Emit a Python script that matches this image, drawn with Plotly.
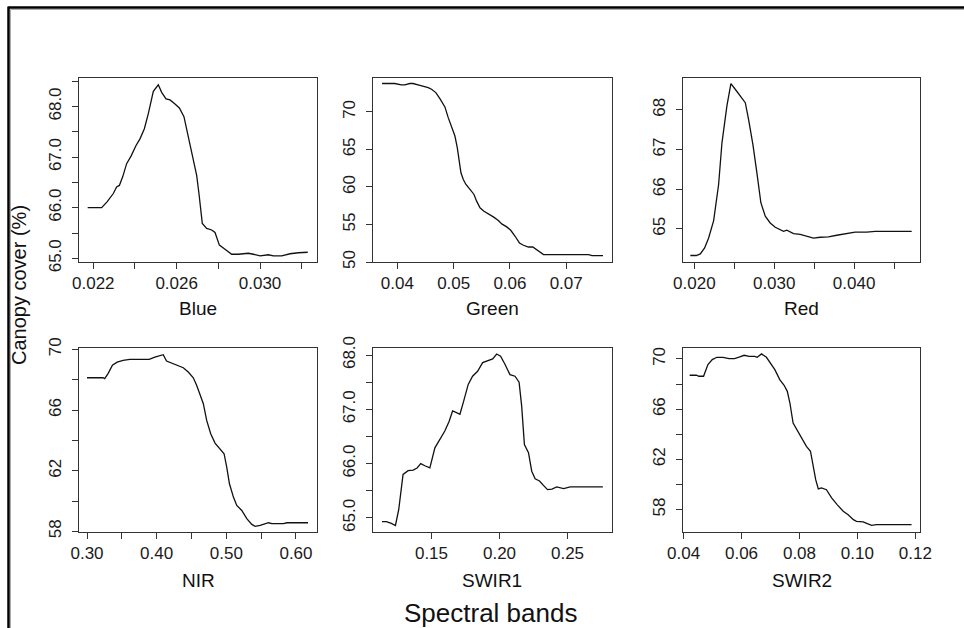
import plotly.graph_objects as go

W, H = 964, 628

# ---------------- data ----------------
blue_x = [0.02173, 0.0224, 0.02267, 0.02296, 0.02312, 0.02325, 0.02341, 0.0236, 0.02381, 0.02405,
          0.02424, 0.02445, 0.02464, 0.02488, 0.02512, 0.02528, 0.02549, 0.02568, 0.02592, 0.02613,
          0.02635, 0.02656, 0.0268, 0.02696, 0.02707, 0.02723, 0.02744, 0.02768, 0.02784, 0.02805,
          0.02832, 0.02864, 0.02896, 0.02944, 0.02968, 0.030, 0.0304, 0.03064, 0.03104, 0.03144,
          0.03184, 0.03229]
blue_y = [66.0, 66.0, 66.12, 66.28, 66.41, 66.44, 66.61, 66.87, 67.02, 67.23,
          67.36, 67.56, 67.86, 68.30, 68.43, 68.28, 68.15, 68.13, 68.05, 67.97,
          67.80, 67.40, 67.0, 66.64, 66.28, 65.69, 65.59, 65.56, 65.51, 65.26,
          65.18, 65.08, 65.08, 65.10, 65.08, 65.05, 65.07, 65.05, 65.05, 65.09,
          65.11, 65.12]

green_x = [0.03727, 0.03952, 0.04071, 0.04131, 0.0422, 0.04279, 0.04368, 0.04458, 0.04547, 0.04606,
           0.04683, 0.04755, 0.04844, 0.04903, 0.04963, 0.05022, 0.05064, 0.05099, 0.05129, 0.05171,
           0.05218, 0.0529, 0.05361, 0.05408, 0.05468, 0.05539, 0.05616, 0.05705, 0.05794, 0.05854,
           0.05943, 0.06014, 0.06092, 0.06169, 0.0624, 0.06329, 0.06406, 0.06478, 0.06537, 0.06597,
           0.06834, 0.07191, 0.07399, 0.07458, 0.07654]
green_y = [73.79, 73.79, 73.61, 73.61, 73.79, 73.79, 73.61, 73.47, 73.25, 73.03,
           72.58, 71.78, 70.67, 69.24, 68.13, 66.79, 65.23, 63.67, 61.89, 61.0,
           60.33, 59.67, 59.0, 58.11, 57.22, 56.77, 56.46, 56.01, 55.52, 55.08,
           54.68, 54.23, 53.43, 52.54, 52.23, 52.0, 52.0, 51.65, 51.29, 50.98,
           50.98, 50.98, 50.98, 50.85, 50.85]

red_x = [0.0195, 0.02025, 0.02075, 0.02129, 0.02179, 0.02242, 0.02304, 0.02346, 0.02408, 0.02458,
         0.02512, 0.02575, 0.02638, 0.02679, 0.02733, 0.02783, 0.02833, 0.02888, 0.0295, 0.03013,
         0.03075, 0.03117, 0.03158, 0.03192, 0.03242, 0.03325, 0.03408, 0.03492, 0.03575, 0.03679,
         0.03783, 0.03888, 0.04013, 0.04158, 0.04263, 0.04492, 0.04721]
red_y = [64.33, 64.33, 64.37, 64.52, 64.77, 65.21, 66.12, 67.17, 68.10, 68.66,
         68.52, 68.35, 68.18, 67.76, 67.13, 66.42, 65.66, 65.32, 65.15, 65.04,
         64.98, 64.94, 64.97, 64.94, 64.88, 64.86, 64.81, 64.77, 64.79, 64.80,
         64.84, 64.88, 64.92, 64.92, 64.94, 64.94, 64.94]

nir_x = [0.30, 0.323, 0.3254, 0.3302, 0.3365, 0.3432, 0.3518, 0.3614, 0.3758, 0.3893,
         0.3974, 0.4046, 0.4094, 0.4142, 0.4214, 0.4286, 0.4382, 0.4454, 0.4526, 0.4574,
         0.4622, 0.467, 0.4718, 0.4776, 0.4838, 0.491, 0.4968, 0.5006, 0.5045, 0.5102,
         0.515, 0.5222, 0.5294, 0.5366, 0.5414, 0.5486, 0.5558, 0.5606, 0.5654, 0.5822,
         0.587, 0.6014, 0.6173]
nir_y = [68.13, 68.13, 68.07, 68.40, 68.95, 69.16, 69.27, 69.34, 69.34, 69.34,
         69.49, 69.60, 69.65, 69.23, 69.10, 68.95, 68.79, 68.51, 68.13, 67.63,
         67.08, 66.42, 65.32, 64.44, 63.82, 63.45, 63.12, 62.24, 61.14, 60.26,
         59.71, 59.38, 58.84, 58.46, 58.33, 58.40, 58.51, 58.57, 58.51, 58.51,
         58.57, 58.57, 58.57]

swir1_x = [0.1136, 0.1168, 0.1205, 0.1235, 0.1259, 0.1291, 0.1328, 0.1365, 0.1394, 0.1421,
           0.1451, 0.1488, 0.1525, 0.1561, 0.1598, 0.163, 0.1655, 0.1684, 0.1709, 0.1733,
           0.177, 0.1802, 0.1839, 0.1876, 0.191, 0.195, 0.1979, 0.2008, 0.204, 0.2077,
           0.2114, 0.2144, 0.2163, 0.2183, 0.2213, 0.2237, 0.2262, 0.2294, 0.2323, 0.2353,
           0.2385, 0.2421, 0.2471, 0.252, 0.2618, 0.2760]
swir1_y = [64.93, 64.93, 64.90, 64.86, 65.15, 65.80, 65.87, 65.88, 65.92, 66.0,
           65.96, 65.92, 66.29, 66.44, 66.60, 66.78, 66.97, 66.94, 66.91, 67.12,
           67.46, 67.61, 67.70, 67.86, 67.89, 67.93, 68.02, 67.98, 67.83, 67.64,
           67.61, 67.50, 67.06, 66.35, 66.20, 65.86, 65.72, 65.68, 65.60, 65.52,
           65.53, 65.57, 65.54, 65.57, 65.57, 65.57]

swir2_x = [0.0421, 0.0444, 0.0453, 0.0469, 0.0484, 0.0499, 0.0515, 0.0536, 0.0557, 0.0576,
           0.0594, 0.0609, 0.0626, 0.0646, 0.0654, 0.0669, 0.0686, 0.07, 0.0715, 0.0732,
           0.0747, 0.0758, 0.0767, 0.0778, 0.0795, 0.0813, 0.0824, 0.0838, 0.0847, 0.0856,
           0.0865, 0.0876, 0.0893, 0.0911, 0.093, 0.0951, 0.0968, 0.0986, 0.0997, 0.102,
           0.1034, 0.1049, 0.1066, 0.1124, 0.1187]
swir2_y = [68.70, 68.70, 68.62, 68.62, 69.55, 69.95, 70.13, 70.13, 70.03, 70.03,
           70.16, 70.29, 70.21, 70.21, 70.13, 70.40, 70.13, 69.68, 69.15, 68.35,
           67.90, 67.42, 66.49, 64.90, 64.24, 63.44, 63.04, 62.65, 61.45, 60.39,
           59.65, 59.73, 59.59, 58.93, 58.40, 57.87, 57.60, 57.20, 57.07, 57.02,
           56.88, 56.75, 56.81, 56.81, 56.81]

band_names = ["Blue", "Green", "Red", "NIR", "SWIR1", "SWIR2"]
xs = [blue_x, green_x, red_x, nir_x, swir1_x, swir2_x]
ys = [blue_y, green_y, red_y, nir_y, swir1_y, swir2_y]

# tick values and labels ("" = tick without label, as R drops overlapping labels)
x_tickvals = [
    [0.022, 0.024, 0.026, 0.028, 0.030, 0.032],
    [0.04, 0.05, 0.06, 0.07],
    [0.020, 0.025, 0.030, 0.035, 0.040, 0.045],
    [0.30, 0.35, 0.40, 0.45, 0.50, 0.55, 0.60],
    [0.15, 0.20, 0.25],
    [0.04, 0.06, 0.08, 0.10, 0.12],
]
x_ticktext = [
    ["0.022", "", "0.026", "", "0.030", ""],
    ["0.04", "0.05", "0.06", "0.07"],
    ["0.020", "", "0.030", "", "0.040", ""],
    ["0.30", "", "0.40", "", "0.50", "", "0.60"],
    ["0.15", "0.20", "0.25"],
    ["0.04", "0.06", "0.08", "0.10", "0.12"],
]
y_tickvals = [
    [65.0, 65.5, 66.0, 66.5, 67.0, 67.5, 68.0, 68.5],
    [50, 55, 60, 65, 70],
    [65, 66, 67, 68],
    [58, 60, 62, 64, 66, 68, 70],
    [65.0, 65.5, 66.0, 66.5, 67.0, 67.5, 68.0],
    [58, 60, 62, 64, 66, 68, 70],
]
y_ticktext = [
    ["65.0", "", "66.0", "", "67.0", "", "68.0", ""],
    ["50", "55", "60", "65", "70"],
    ["65", "66", "67", "68"],
    ["58", "", "62", "", "66", "", "70"],
    ["65.0", "", "66.0", "", "67.0", "", "68.0"],
    ["58", "", "62", "", "66", "", "70"],
]
x_ranges = [[0.021314, 0.032734], [0.03566, 0.07814], [0.018583, 0.04825],
            [0.2885, 0.6302], [0.107, 0.2827], [0.0398, 0.1216]]
y_ranges = [[64.927, 68.573], [50.0, 74.59], [64.166, 68.816],
            [57.96, 70.09], [64.74, 68.13], [56.22, 70.87]]

# ---------------- layout (pixel boxes) ----------------
col_px = [(79, 317), (373, 612), (683, 920)]
row_px = [(77.5, 262), (348, 532)]

FONT = "Liberation Sans, Arial, sans-serif"
fig = go.Figure()
layout = dict(
    width=W, height=H, margin=dict(l=0, r=0, t=0, b=0, autoexpand=False),
    paper_bgcolor="white", plot_bgcolor="white", showlegend=False,
    font=dict(family=FONT, color="#1a1a1a"),
)
annotations = []
for i, name in enumerate(band_names):
    r, c = divmod(i, 3)
    x0, x1 = col_px[c]
    y0, y1 = row_px[r]
    sfx = "" if i == 0 else str(i + 1)
    fig.add_trace(go.Scatter(x=xs[i], y=ys[i], mode="lines",
                             line=dict(color="#111111", width=1.3),
                             xaxis="x" + sfx, yaxis="y" + sfx, hoverinfo="skip"))
    layout["xaxis" + sfx] = dict(
        domain=[x0 / W, x1 / W], anchor="y" + sfx, range=x_ranges[i], automargin=False,
        tickmode="array", tickvals=x_tickvals[i], ticktext=x_ticktext[i],
        ticks="outside", ticklen=6, tickwidth=1, tickcolor="#333333",
        showline=True, linecolor="#333333", linewidth=1, mirror=True,
        showgrid=False, zeroline=False, tickfont=dict(size=17, color="#1a1a1a"),
    )
    layout["yaxis" + sfx] = dict(
        domain=[1 - y1 / H, 1 - y0 / H], anchor="x" + sfx, range=y_ranges[i], automargin=False,
        tickmode="array", tickvals=y_tickvals[i], ticktext=y_ticktext[i],
        ticks="outside", ticklen=6, tickwidth=1, tickcolor="#333333", tickangle=-90,
        ticklabelstandoff=4,
        showline=True, linecolor="#333333", linewidth=1, mirror=True,
        showgrid=False, zeroline=False, tickfont=dict(size=17, color="#1a1a1a"),
    )
    label_y = 309 if r == 0 else 580
    annotations.append(dict(text=name, x=(x0 + x1) / 2 / W, y=1 - label_y / H,
                            xref="paper", yref="paper", showarrow=False,
                            xanchor="center", yanchor="middle",
                            font=dict(size=19, color="#111111", family=FONT)))

annotations.append(dict(text="Spectral bands", x=491 / W, y=1 - 613 / H, xref="paper", yref="paper",
                        showarrow=False, xanchor="center", yanchor="middle",
                        font=dict(size=26, color="#111111", family=FONT)))
annotations.append(dict(text="Canopy cover (%)", x=19 / W, y=1 - 285 / H, xref="paper", yref="paper",
                        showarrow=False, xanchor="center", yanchor="middle", textangle=-90,
                        font=dict(size=20, color="#111111", family=FONT)))
layout["annotations"] = annotations

# outer frame (top and left edges)
layout["shapes"] = [
    dict(type="line", xref="paper", yref="paper", x0=8.5 / W, x1=1, y0=1 - 7.5 / H, y1=1 - 7.5 / H,
         line=dict(color="black", width=2.5)),
    dict(type="line", xref="paper", yref="paper", x0=8.5 / W, x1=8.5 / W, y0=1 - 6.5 / H, y1=0,
         line=dict(color="black", width=2.5)),
    dict(type="line", xref="paper", yref="paper", x0=10.5 / W, x1=1, y0=1 - 9.5 / H, y1=1 - 9.5 / H,
         line=dict(color="#aaaaaa", width=1)),
    dict(type="line", xref="paper", yref="paper", x0=10.5 / W, x1=10.5 / W, y0=1 - 9.5 / H, y1=0,
         line=dict(color="#aaaaaa", width=1)),
]
fig.update_layout(**layout)
fig.write_html("out.html")
